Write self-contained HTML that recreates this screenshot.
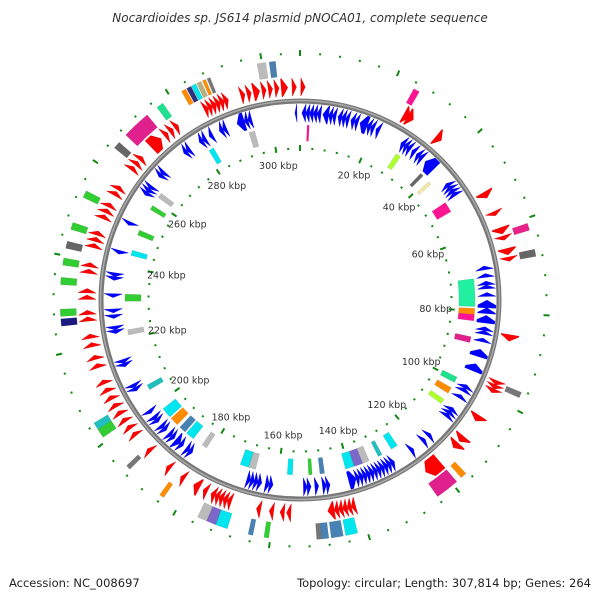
<!DOCTYPE html>
<html><head><meta charset="utf-8"><style>
body{margin:0;background:#fff;}
svg{display:block;font-family:"DejaVu Sans","Liberation Sans",sans-serif;}
</style></head><body>
<svg id="map" width="600" height="600" viewBox="0 0 600 600">
<rect width="600" height="600" fill="#fff"/>
<text x="300" y="22" text-anchor="middle" font-size="12" font-style="italic" fill="#333">Nocardioides sp. JS614 plasmid pNOCA01, complete sequence</text>
<text x="9" y="587" font-size="11.5" fill="#222">Accession: NC_008697</text>
<text x="591" y="587" text-anchor="end" font-size="11.5" fill="#222">Topology: circular; Length: 307,814 bp; Genes: 264</text>
<g id="ticks"></g>
<g id="cogs"></g>
<g id="genes"></g>
<circle cx="300" cy="300" r="199" fill="none" stroke="#777" stroke-width="5"/>
<circle cx="300" cy="300" r="199.5" fill="none" stroke="#aaa" stroke-width="1.5"/>
<g id="labels"></g>
</svg>
<script>
const GENOME_KB = 307.814;
const tickLabels = [20,40,60,80,100,120,140,160,180,200,220,240,260,280,300];
const fwdGenes = [[0.2,1.2],[25,26.5],[26,27.5],[34,35.5],[51,52.5],[56,57],[60,61.5],[62,63],[65,66.5],[67,68],[85,86.5],[96,97],[97,98],[98,99],[105,106.5],[111,112.5],[113,114.5],[119,123],[141,142],[142,143],[143,144],[144,145],[145,146],[146,147.5],[156,157],[157.5,158.5],[160,161],[163,164],[170,171],[171,172],[172,173],[173,174],[174,175],[176,177],[178,179.5],[182,183],[186,187],[192,193],[197,198],[199,200],[201,202],[203,204],[205,206],[207,208],[209,210],[211,212],[215,216],[217,218],[220,221],[222,223],[226,227],[227.5,228.5],[231,232],[232.5,233.5],[237,238],[238.5,239.5],[243,244],[244.5,245.5],[246,247],[250,251],[251.5,252.5],[253,254],[256,257],[257.5,258.5],[263,264],[264.5,265.5],[266,267],[270,273],[274,275],[275.5,276.5],[277,278],[285,286],[286,287],[287,288],[288,289],[289,290],[290,291],[294,295],[295.5,296.5],[297,298.5],[299,300],[300.5,301.5],[302,303],[303.5,305],[306,307]];
const revGenes = [[0.5,1.5],[1.5,2.5],[2.5,3.5],[3.5,4.5],[4.5,5.5],[6,7.5],[7.5,8.5],[8.5,9.5],[10,11],[11,12],[12,13],[13.5,14.5],[14.5,15.5],[16,18],[18,19],[19,20],[20.5,21.5],[28,29],[29,30],[30,31],[31.5,32.5],[33,34],[34,35],[36,39],[44,45],[45,46],[46,47],[47,48],[68,69],[70,71],[72,73],[73,74],[75,76],[77,79],[79,80.5],[81,83],[84,85],[85,86],[87,88],[90,92],[94,96],[100,101],[101,102],[103,104],[107,108],[108,109],[109,110],[116,117],[118,119],[122,123],[128,129],[129,130],[130,131],[131,132],[132,133],[133,134],[134,135],[135,136],[136,137],[137,138],[138,139],[139,141],[146,147],[147,148],[149,150],[151,152],[152,153],[161,162],[162,163],[164,165],[165,166],[166,167],[167,168],[184,185],[185,186],[187,188],[188,189.5],[190,191],[191,192],[193,194],[194,195],[196,197],[197,198],[199,200],[206,207],[207,208],[213,214],[214,215],[222,223],[223,224],[226,227],[227.5,228.5],[231.5,232.5],[236,237],[237,238],[243,244],[251,252],[260,261],[261,262],[262,263],[266,267],[267,268],[275,276],[276,277],[280,281],[281,282],[283,284],[286,287],[287,288],[291,293],[293,294],[294,295],[306.5,307]];
const outerCogStart = [299,301.5,24.2,61,66.5,96.3,116.5,119,142,145,148,149.5,169,171.5,173.5,163.6,160.3,183.5,192.5,201,203,227.5,234,238,241.5,245.5,252.5,225.5,264.5,268,276.5,282.5,283.7,284.8,286,287.3,288.3];
const outerCogEnd =   [300.8,302.8,25.5,62.5,68,97.5,117.8,124,144.5,147.5,149.5,150.5,171.5,173.5,175.5,164.6,161.3,184.5,193.5,203,204.5,229,235.5,239.5,243,247,254,227,266,274,278,283.5,284.7,285.8,287,288,289];
const outerCogColor = ["#bbbbbb","#4a7fb0","#ff1493","#e8228a","#666666","#777777","#ff8c00","#e0208c","#00e5ee","#4682b4","#4682b4","#777777","#00e5ee","#7b68c8","#bbbbbb","#4682b4","#32cd32","#ff8c00","#777777","#32cd32","#20c0c0","#32cd32","#32cd32","#32cd32","#666666","#32cd32","#32cd32","#1a1a80","#666666","#e0208c","#20e090","#ff8c00","#303080","#00e5ee","#b8b080","#ff8c00","#777777"];
const innerCogStart = [2,293.3,281,28.5,37.3,40.5,48,71,79.3,81,87.3,99.3,102.7,106.5,125,130,134,136,138.5,147,150.5,156,166.5,168.5,181.5,186,189,192,195,204.5,243.5,249.5,261.5,257.5,230.5,221];
const innerCogEnd =   [2.6,295,282.5,30,38.3,41.5,51,78.8,81,82.8,89,101,104.5,108,127,131.2,136,138.5,141,148.3,151.5,157.5,168.5,171,183,188.5,191,194.5,198,206,245,251,263,258.8,232.5,222.5];
const innerCogColor = ["#ff1493","#bbbbbb","#00e5ee","#adff2f","#666666","#eee8aa","#ff1493","#20f0a0","#ff8c00","#ff1493","#e0208c","#20e090","#ff8c00","#adff2f","#00e5ee","#20c0c0","#bbbbbb","#7b68c8","#00e5ee","#4682b4","#32cd32","#00e5ee","#bbbbbb","#00e5ee","#bbbbbb","#00e5ee","#4682b4","#ff8c00","#00e5ee","#20c0c0","#00e5ee","#32cd32","#bbbbbb","#32cd32","#32cd32","#bbbbbb"];

const NS = "http://www.w3.org/2000/svg";
const CX = 300, CY = 300;
function ang(kb){ return kb / GENOME_KB * 2 * Math.PI; }
function pt(kb, r){ const a = ang(kb); return [CX + r*Math.sin(a), CY - r*Math.cos(a)]; }
function f(p){ return p[0].toFixed(2)+","+p[1].toFixed(2); }
function arcPath(s, e, r0, r1){
  const large = (e - s) / GENOME_KB > 0.5 ? 1 : 0;
  return "M"+f(pt(s,r1))+" A"+r1+","+r1+" 0 "+large+" 1 "+f(pt(e,r1))+
    " L"+f(pt(e,r0))+" A"+r0+","+r0+" 0 "+large+" 0 "+f(pt(s,r0))+" Z";
}
function arrowPath(s, e, r0, r1, dir){
  const len = e - s, head = Math.min(len, 1.3), rm = (r0+r1)/2;
  if (dir > 0){
    const b = e - head;
    if (b <= s) return "M"+f(pt(s,r1))+" L"+f(pt(e,rm))+" L"+f(pt(s,r0))+" Z";
    return "M"+f(pt(s,r1))+" A"+r1+","+r1+" 0 0 1 "+f(pt(b,r1))+" L"+f(pt(e,rm))+" L"+f(pt(b,r0))+" A"+r0+","+r0+" 0 0 0 "+f(pt(s,r0))+" Z";
  } else {
    const b = s + head;
    if (b >= e) return "M"+f(pt(e,r1))+" L"+f(pt(s,rm))+" L"+f(pt(e,r0))+" Z";
    return "M"+f(pt(e,r1))+" A"+r1+","+r1+" 0 0 0 "+f(pt(b,r1))+" L"+f(pt(s,rm))+" L"+f(pt(b,r0))+" A"+r0+","+r0+" 0 0 1 "+f(pt(e,r0))+" Z";
  }
}
function mk(tag, attrs, parent){
  const el = document.createElementNS(NS, tag);
  for (const k in attrs) el.setAttribute(k, attrs[k]);
  parent.appendChild(el);
  return el;
}
const ticksG = document.getElementById("ticks");
for (let kb = 0; kb < GENOME_KB; kb += 4){
  const major = kb % 20 === 0;
  [[major?244:245.5, major?250:247.5],[major?149:150.5, major?155:152.5]].forEach(function(rr){
    const p0 = pt(kb, rr[0]), p1 = pt(kb, rr[1]);
    const t = mk("line", {x1:p0[0],y1:p0[1],x2:p1[0],y2:p1[1],stroke:"#118811","stroke-width":2}, ticksG);
    
    
  });
}
const labelsG = document.getElementById("labels");
tickLabels.forEach(function(kb){
  const p = pt(kb, 136);
  const t = mk("text", {x:p[0], y:p[1]+3.5, "text-anchor":"middle", "font-size":"9.5", fill:"#333"}, labelsG);
  t.textContent = kb + " kbp";
  
  
});
const cogG = document.getElementById("cogs");
outerCogStart.forEach(function(s, i){
  const c = mk("path", {d: arcPath(s, outerCogEnd[i], 224, 240), fill: outerCogColor[i], stroke:"rgba(0,0,0,0.15)", "stroke-width":0.5}, cogG);
  
  
});
innerCogStart.forEach(function(s, i){
  const c = mk("path", {d: arcPath(s, innerCogEnd[i], 159, 175), fill: innerCogColor[i], stroke:"rgba(0,0,0,0.15)", "stroke-width":0.5}, cogG);
  
  
});
const genesG = document.getElementById("genes");
fwdGenes.forEach(function(g){
  const a = mk("path", {d: arrowPath(g[0], g[1], 204, 222, 1), fill:"#ff0000", stroke:"#cc0000", "stroke-width":0.4}, genesG);
  
  
});
revGenes.forEach(function(g){
  const a = mk("path", {d: arrowPath(g[0], g[1], 178, 196, -1), fill:"#0000ff", stroke:"#0000cc", "stroke-width":0.4}, genesG);
  
  
});
</script>
</body></html>
